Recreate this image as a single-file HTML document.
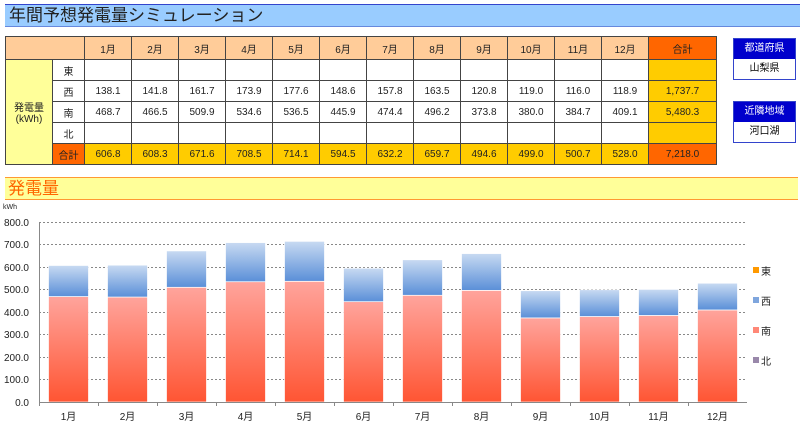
<!DOCTYPE html>
<html><head><meta charset="utf-8"><style>
body{margin:0;width:800px;height:427px;background:#fff;position:relative;overflow:hidden;font-family:"Liberation Sans","Noto Sans CJK JP",sans-serif;}
.title{position:absolute;left:5px;top:4px;width:792px;height:21px;background:#99CCFF;border-top:1px solid #3344cc;border-bottom:1px solid #6688dd;font-size:17px;line-height:21px;color:#222;padding-left:4px;box-sizing:content-box}
table{position:absolute;left:5px;top:36px;border-collapse:collapse;font-size:10px}
td{border:1px solid #444;text-align:center;padding:0;height:20px;color:#222}
td.h{background:#FFCC99;height:22px}
td.t{background:#FF6600}
td.y{background:#FFCC00}
td.lab{background:#FFFF99}
.box{position:absolute;left:733px;width:61px;border:1px solid #3344cc;font-size:10px;text-align:center}
.box div{height:20px;line-height:20px}
.box .hd{background:#0000CC;color:#fff}
.ct{position:absolute;left:5px;top:177px;width:790px;height:21px;background:#FFFF99;border-top:1px solid #FF9933;border-bottom:1px solid #FF9933;font-size:17px;line-height:21px;color:#FF6600;padding-left:3px}
</style></head><body>
<div class="title">年間予想発電量シミュレーション</div>
<table>
<tr><td class="h" colspan="2" style="width:78px"></td>
<td class="h" style="width:46px">1月</td><td class="h" style="width:46px">2月</td><td class="h" style="width:46px">3月</td><td class="h" style="width:46px">4月</td><td class="h" style="width:46px">5月</td><td class="h" style="width:46px">6月</td><td class="h" style="width:46px">7月</td><td class="h" style="width:46px">8月</td><td class="h" style="width:46px">9月</td><td class="h" style="width:46px">10月</td><td class="h" style="width:46px">11月</td><td class="h" style="width:46px">12月</td><td class="t" style="width:67px">合計</td></tr>
<tr><td class="lab" rowspan="5" style="width:46px">発電量<br>(kWh)</td><td style="width:31px">東</td><td></td><td></td><td></td><td></td><td></td><td></td><td></td><td></td><td></td><td></td><td></td><td></td><td class="y"></td></tr>
<tr><td>西</td><td>138.1</td><td>141.8</td><td>161.7</td><td>173.9</td><td>177.6</td><td>148.6</td><td>157.8</td><td>163.5</td><td>120.8</td><td>119.0</td><td>116.0</td><td>118.9</td><td class="y">1,737.7</td></tr>
<tr><td>南</td><td>468.7</td><td>466.5</td><td>509.9</td><td>534.6</td><td>536.5</td><td>445.9</td><td>474.4</td><td>496.2</td><td>373.8</td><td>380.0</td><td>384.7</td><td>409.1</td><td class="y">5,480.3</td></tr>
<tr><td>北</td><td></td><td></td><td></td><td></td><td></td><td></td><td></td><td></td><td></td><td></td><td></td><td></td><td class="y"></td></tr>
<tr><td class="t">合計</td><td class="y">606.8</td><td class="y">608.3</td><td class="y">671.6</td><td class="y">708.5</td><td class="y">714.1</td><td class="y">594.5</td><td class="y">632.2</td><td class="y">659.7</td><td class="y">494.6</td><td class="y">499.0</td><td class="y">500.7</td><td class="y">528.0</td><td class="t">7,218.0</td></tr>
</table>
<div class="box" style="top:38px"><div class="hd">都道府県</div><div>山梨県</div></div>
<div class="box" style="top:101px"><div class="hd">近隣地域</div><div>河口湖</div></div>
<div class="ct">発電量</div>
<svg style="position:absolute;left:0;top:0" width="800" height="427">
<defs>
<linearGradient id="r" x1="0" y1="0" x2="0" y2="1"><stop offset="0" stop-color="#FFA49C"/><stop offset="1" stop-color="#FF5533"/></linearGradient>
<linearGradient id="b" x1="0" y1="0" x2="0" y2="1"><stop offset="0" stop-color="#C8DAF2"/><stop offset="1" stop-color="#5A8FD8"/></linearGradient>
</defs>
<g font-size="10" fill="#222" font-family="Liberation Sans, sans-serif">
<text x="3" y="209" font-size="7">kWh</text>
<g stroke="#888" stroke-dasharray="2,2" stroke-width="1">
<line x1="39" x2="747" y1="222.5" y2="222.5"/><line x1="39" x2="747" y1="244.5" y2="244.5"/><line x1="39" x2="747" y1="267.5" y2="267.5"/><line x1="39" x2="747" y1="289.5" y2="289.5"/><line x1="39" x2="747" y1="312.5" y2="312.5"/><line x1="39" x2="747" y1="334.5" y2="334.5"/><line x1="39" x2="747" y1="357.5" y2="357.5"/><line x1="39" x2="747" y1="379.5" y2="379.5"/>
</g>
<g text-anchor="end">
<text x="29" y="406">0.0</text><text x="29" y="383">100.0</text><text x="29" y="361">200.0</text><text x="29" y="338">300.0</text><text x="29" y="316">400.0</text><text x="29" y="293">500.0</text><text x="29" y="271">600.0</text><text x="29" y="248">700.0</text><text x="29" y="226">800.0</text>
</g>
<g id="bars" stroke="#fff" stroke-width="0.7"></g>
<line x1="39.5" x2="39.5" y1="222" y2="402" stroke="#888"/>
<line x1="39" x2="747" y1="402.5" y2="402.5" stroke="#888"/>
<g id="xl" text-anchor="middle"></g>
<rect x="753" y="267" width="6" height="6" fill="#FF9900"/><text x="761" y="275">東</text>
<rect x="753" y="297" width="6" height="6" fill="#7FA6DD"/><text x="761" y="305">西</text>
<rect x="753" y="327" width="6" height="6" fill="#FF8877"/><text x="761" y="335">南</text>
<rect x="753" y="357" width="6" height="6" fill="#9988AA"/><text x="761" y="365">北</text>
</g>
</svg>
<script>
var w=[138.1,141.8,161.7,173.9,177.6,148.6,157.8,163.5,120.8,119.0,116.0,118.9];
var s=[468.7,466.5,509.9,534.6,536.5,445.9,474.4,496.2,373.8,380.0,384.7,409.1];
var ns="http://www.w3.org/2000/svg",g=document.getElementById("bars"),xl=document.getElementById("xl");
var k=180/800,cw=59;
for(var i=0;i<12;i++){
 var x=39+cw*i+9.5,hs=s[i]*k,hw=w[i]*k;
 var r=document.createElementNS(ns,"rect");r.setAttribute("x",x);r.setAttribute("width",40);r.setAttribute("y",402-hs);r.setAttribute("height",hs);r.setAttribute("fill","url(#r)");g.appendChild(r);
 var b=document.createElementNS(ns,"rect");b.setAttribute("x",x);b.setAttribute("width",40);b.setAttribute("y",402-hs-hw);b.setAttribute("height",hw);b.setAttribute("fill","url(#b)");g.appendChild(b);
 var t=document.createElementNS(ns,"text");t.setAttribute("x",39+cw*i+29.5);t.setAttribute("y",420);t.textContent=(i+1)+"月";xl.appendChild(t);
 var tk=document.createElementNS(ns,"line");tk.setAttribute("x1",39.5+cw*i);tk.setAttribute("x2",39.5+cw*i);tk.setAttribute("y1",402);tk.setAttribute("y2",406);tk.setAttribute("stroke","#888");xl.appendChild(tk);
}
</script>
</body></html>
